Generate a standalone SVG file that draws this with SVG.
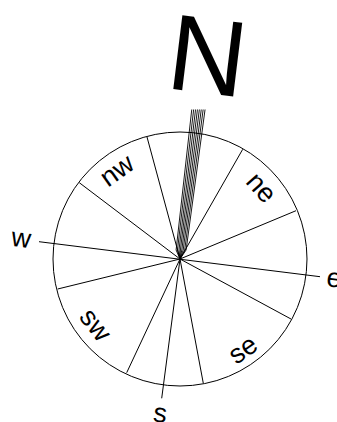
<svg xmlns="http://www.w3.org/2000/svg" width="337" height="422" viewBox="0 0 337 422">
<style>
.ln{stroke:#000;stroke-width:1;fill:none}
.bar{stroke:#000;stroke-width:0.9;fill:none}
.lbl{font-family:"Liberation Sans",Arial,sans-serif;font-size:27px;fill:#000;text-anchor:middle}
</style>
<rect width="337" height="422" fill="#fff"/>
<g id="rose">
<circle class="ln" cx="180" cy="259" r="127"/>
</g>
<g id="connectors">
<line class="ln" x1="180" y1="259" x2="147" y2="137"/>
<line class="ln" x1="180" y1="259" x2="79.3" y2="182.7"/>
<line class="ln" x1="39" y1="241.7" x2="320" y2="276.7"/>
<line class="ln" x1="180" y1="259" x2="57.7" y2="289"/>
<line class="ln" x1="180" y1="259" x2="126.7" y2="372.7"/>
<line class="ln" x1="180" y1="259" x2="161.7" y2="398.3"/>
<line class="ln" x1="180" y1="259" x2="203.3" y2="383.3"/>
<line class="ln" x1="180" y1="259" x2="291" y2="319"/>
<line class="ln" x1="180" y1="259" x2="296" y2="210.7"/>
<line class="ln" x1="180" y1="259" x2="242.7" y2="149.3"/>
</g>
<g id="north-bar">
<polyline class="bar" points="180,259 176.1,250 191.75,109.5"/>
<polyline class="bar" points="180,259 177.5,250 193.65,109.5"/>
<polyline class="bar" points="180,259 179.0,250 195.55,109.5"/>
<polyline class="bar" points="180,259 180.4,250 197.45,109.5"/>
<polyline class="bar" points="180,259 181.8,250 199.35,109.5"/>
<polyline class="bar" points="180,259 183.2,250 201.25,109.5"/>
<polyline class="bar" points="180,259 184.7,250 203.15,109.5"/>
<polyline class="bar" points="180,259 186.1,250 205.05,109.5"/>
</g>
<g id="label-N"><text class="lbl" style="font-size:108px" transform="translate(208,54) rotate(7)" x="0" y="39">N</text></g>
<g id="label-w"><text class="lbl" transform="translate(21,240) rotate(7)" x="0" y="7">w</text></g>
<g id="label-e"><text class="lbl" transform="translate(334,280) rotate(7)" x="0" y="7">e</text></g>
<g id="label-s"><text class="lbl" transform="translate(160,415) rotate(7)" x="0" y="7">s</text></g>
<g id="label-nw"><text class="lbl" transform="translate(118,172) rotate(-35.5)" x="0" y="7">nw</text></g>
<g id="label-ne"><text class="lbl" transform="translate(260,189) rotate(48.8)" x="0" y="7">ne</text></g>
<g id="label-sw"><text class="lbl" transform="translate(94,326) rotate(52)" x="0" y="7">sw</text></g>
<g id="label-se"><text class="lbl" transform="translate(244,351) rotate(-34.8)" x="0" y="7">se</text></g>
</svg>
